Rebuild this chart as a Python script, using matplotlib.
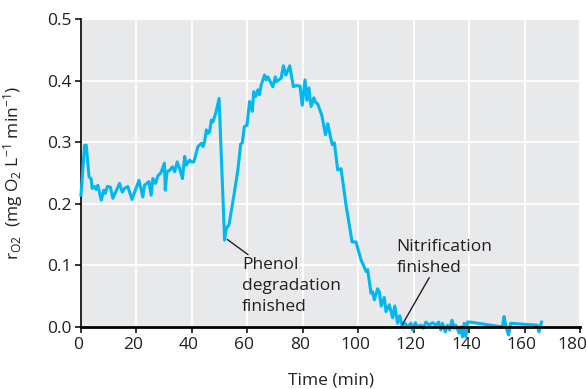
import matplotlib
matplotlib.use("Agg")
import matplotlib.pyplot as plt
import matplotlib.transforms as mtransforms

# oxygen uptake rate over time
time_min = [0.0, 1.3, 1.9, 2.9, 3.7, 4.0, 4.9, 5.5, 6.1, 7.3, 8.2, 8.8, 9.5, 10.6, 11.5, 12.5,
            13.9, 14.9, 15.7, 16.9, 18.4, 19.6, 20.9, 22.3, 22.9, 24.5, 25.3, 25.9, 26.9, 27.7,
            28.9, 30.1, 30.4, 31.0, 31.9, 33.0, 33.8, 34.7, 35.6, 36.6, 37.4, 38.0, 39.2, 39.8,
            40.7, 42.2, 43.4, 44.0, 44.6, 45.2, 45.8, 46.4, 47.0, 47.6, 48.6, 49.8, 51.8, 52.4,
            53.4, 55.1, 56.6, 57.6, 58.2, 58.9, 59.9, 60.8, 61.8, 62.3, 63.0, 63.8, 64.4, 65.0,
            66.2, 66.8, 67.4, 69.2, 70.1, 70.4, 72.2, 73.0, 73.9, 75.3, 76.6, 77.6, 79.0, 79.8,
            80.8, 81.5, 82.2, 83.0, 84.0, 84.6, 85.4, 86.9, 88.2, 89.0, 90.6, 91.4, 92.6, 93.8,
            95.6, 97.8, 99.2, 101.0, 102.9, 103.4, 104.6, 105.2, 105.8, 107.0, 107.6, 108.3,
            109.4, 110.0, 111.2, 112.4, 113.2, 114.2, 115.0, 115.8, 116.9, 117.8, 119.0, 119.6,
            120.6, 121.4, 122.6, 123.5, 124.4, 125.6, 126.8, 128.0, 129.0, 129.8, 130.4, 131.4,
            132.2, 133.0, 133.8, 134.6, 135.2, 136.4, 137.0, 137.6, 138.2, 138.8, 139.4, 140.4,
            152.0, 152.6, 153.2, 154.2, 155.0, 164.6, 165.2, 166.1]
r_o2 = [0.214, 0.295, 0.295, 0.244, 0.240, 0.225, 0.228, 0.223, 0.230, 0.206, 0.222, 0.217,
        0.228, 0.227, 0.209, 0.219, 0.233, 0.219, 0.225, 0.228, 0.207, 0.222, 0.238, 0.211,
        0.230, 0.236, 0.214, 0.241, 0.233, 0.245, 0.251, 0.266, 0.222, 0.252, 0.254, 0.260,
        0.252, 0.268, 0.257, 0.241, 0.277, 0.263, 0.271, 0.268, 0.268, 0.293, 0.298, 0.293,
        0.301, 0.320, 0.314, 0.317, 0.336, 0.333, 0.347, 0.371, 0.141, 0.160, 0.166, 0.212,
        0.255, 0.297, 0.299, 0.325, 0.328, 0.366, 0.350, 0.382, 0.374, 0.385, 0.377, 0.393,
        0.409, 0.401, 0.406, 0.390, 0.406, 0.398, 0.404, 0.424, 0.409, 0.424, 0.390, 0.392,
        0.391, 0.360, 0.401, 0.368, 0.388, 0.358, 0.372, 0.365, 0.362, 0.343, 0.312, 0.330,
        0.296, 0.299, 0.255, 0.257, 0.198, 0.138, 0.138, 0.109, 0.090, 0.093, 0.055, 0.057,
        0.044, 0.062, 0.057, 0.034, 0.048, 0.025, 0.036, 0.015, 0.034, 0.006, 0.018, 0.003,
        0.006, 0.000, 0.006, -0.005, 0.007, 0.000, 0.003, -0.002, 0.008, 0.003, 0.007, 0.003,
        0.008, -0.005, 0.006, -0.008, 0.003, -0.005, 0.011, -0.002, 0.003, -0.010, 0.000,
        -0.016, 0.006, -0.016, 0.008, 0.008, 0.000, 0.017, 0.003, -0.013, 0.006, 0.003,
        -0.008, 0.008]

x_ticks = [0, 20, 40, 60, 80, 100, 120, 140, 160, 180]
y_ticks = [0.0, 0.1, 0.2, 0.3, 0.4, 0.5]

plt.rcParams['font.family'] = ['Open Sans', 'DejaVu Sans']
plt.rcParams['mathtext.default'] = 'regular'
plt.rcParams['mathtext.fontset'] = 'custom'
plt.rcParams['mathtext.rm'] = 'Open Sans'

txt = '#231f20'

fig = plt.figure(figsize=(5.86, 3.89), dpi=100)
ax = fig.add_axes([0.1382, 0.1594, 0.8516, 0.7918])
ax.set_facecolor('#e8e9eb')

ax.plot(time_min, r_o2, color='#00b8f0', lw=2.2, clip_on=False, zorder=3)

ax.set_xlim(0, 180)
ax.set_ylim(0, 0.5)
ax.set_xticks(x_ticks)
ax.set_yticks(y_ticks)
ax.set_yticklabels([f'{v:.1f}' for v in y_ticks])
ax.grid(True, color='white', lw=1.3)
ax.set_axisbelow(True)

for side in ['top', 'right']:
    ax.spines[side].set_visible(False)
ax.spines['left'].set_linewidth(1.2)
ax.spines['bottom'].set_linewidth(2.0)
ax.spines['bottom'].set_zorder(4)
ax.tick_params(direction='out', length=4, width=1.1, colors='black',
               labelcolor=txt, labelsize=12.5, pad=3)

# nudge x tick labels left so the last one stays inside the figure
xlabels = ax.get_xticklabels()
for i, lab in enumerate(xlabels):
    dx = -8 if i == len(xlabels) - 1 else -3
    lab.set_transform(lab.get_transform() +
                      mtransforms.ScaledTranslation(dx / 100, 0, fig.dpi_scale_trans))

ax.set_xlabel('Time (min)', fontsize=12.5, color=txt, labelpad=14)
ax.set_ylabel(r'r$_{\mathrm{O2}}$  (mg O$_2$ L$^{-1}$ min$^{-1}$)', fontsize=12.5,
              color=txt, labelpad=16)

# event annotations
ax.annotate('Phenol\ndegradation\nfinished', xy=(52.8, 0.142), xytext=(58.0, 0.113),
            fontsize=12.5, color=txt, ha='left', va='top', linespacing=1.4,
            arrowprops=dict(arrowstyle='-', color=txt, lw=1.0, shrinkA=0, shrinkB=0))
ax.annotate('Nitrification\nfinished', xy=(115.9, 0.004), xytext=(113.8, 0.143),
            fontsize=12.5, color=txt, ha='left', va='top', linespacing=1.4)
ax.annotate('', xy=(115.9, 0.004), xytext=(125.6, 0.080),
            arrowprops=dict(arrowstyle='-', color=txt, lw=1.0, shrinkA=0, shrinkB=0))

fig.savefig('out.png', dpi=100)
